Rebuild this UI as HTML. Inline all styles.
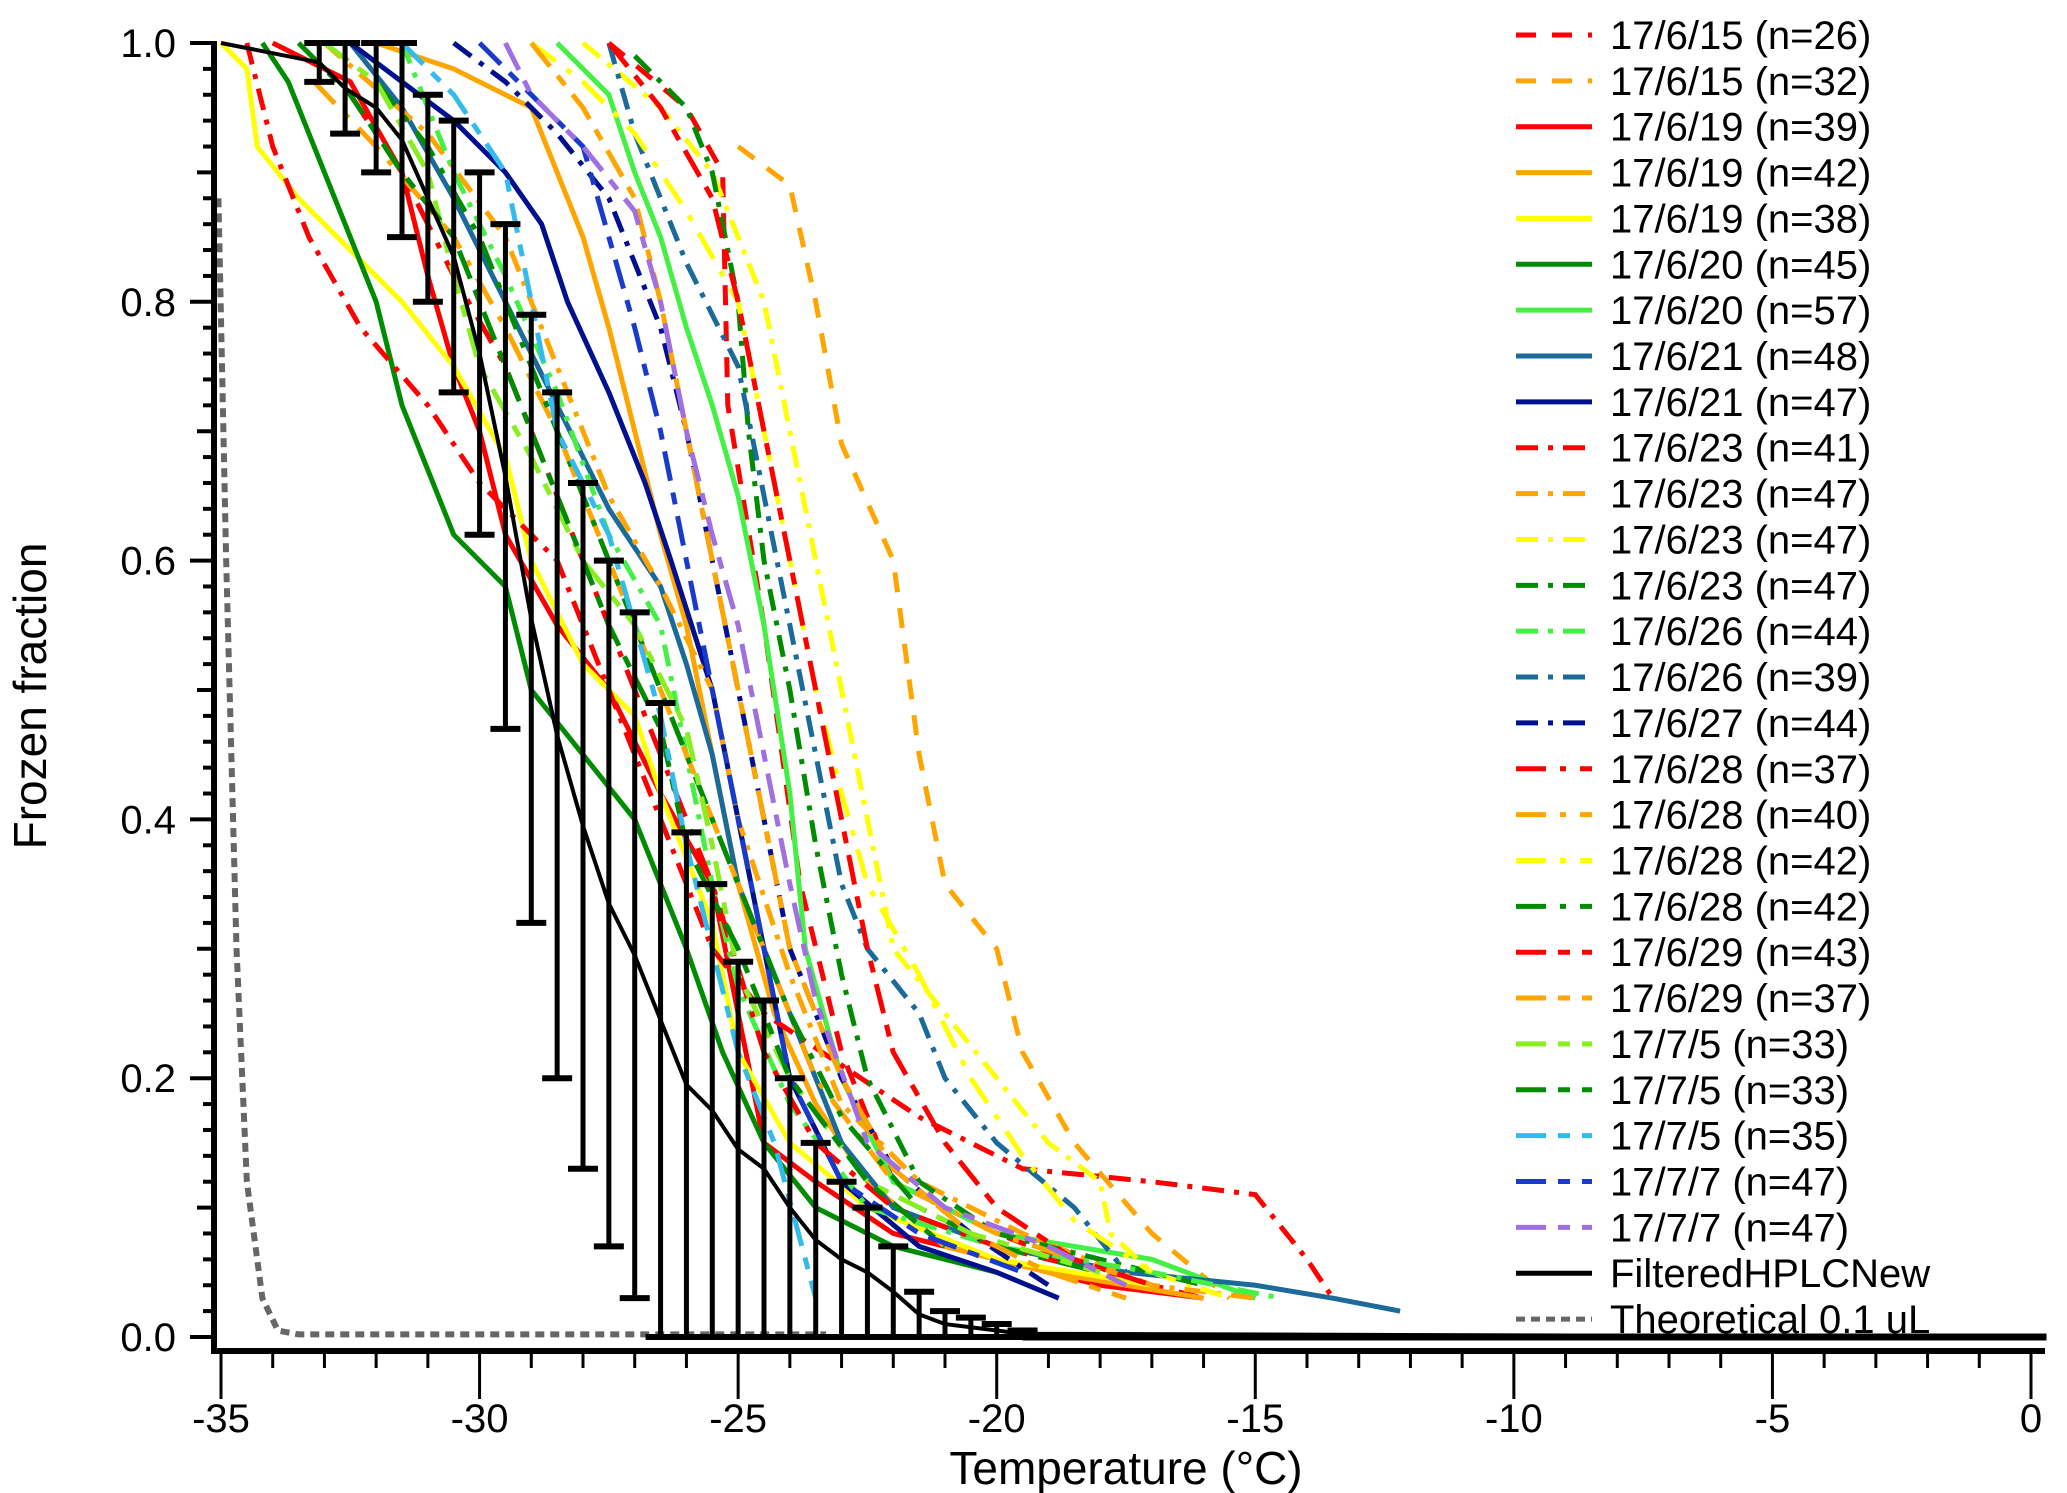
<!DOCTYPE html>
<html><head><meta charset="utf-8">
<style>
html,body{margin:0;padding:0;background:#fff;}
svg{display:block;font-family:"Liberation Sans",Arial,sans-serif;}
</style></head>
<body>
<svg id="chart" width="2067" height="1493" viewBox="0 0 2067 1493" xmlns="http://www.w3.org/2000/svg">
<g id="plot"></g>
<g id="axes"></g>
<g id="legend"></g>
<text x="1126" y="1492" font-size="46" text-anchor="middle" dy="-8">Temperature (°C)</text>
<text transform="translate(46,696) rotate(-90)" font-size="46" text-anchor="middle">Frozen fraction</text>
</svg>
<script>
const seriesNames = ["17/6/15 (n=26)","17/6/15 (n=32)","17/6/19 (n=39)","17/6/19 (n=42)","17/6/19 (n=38)","17/6/20 (n=45)","17/6/20 (n=57)","17/6/21 (n=48)","17/6/21 (n=47)","17/6/23 (n=41)","17/6/23 (n=47)","17/6/23 (n=47)","17/6/23 (n=47)","17/6/26 (n=44)","17/6/26 (n=39)","17/6/27 (n=44)","17/6/28 (n=37)","17/6/28 (n=40)","17/6/28 (n=42)","17/6/28 (n=42)","17/6/29 (n=43)","17/6/29 (n=37)","17/7/5 (n=33)","17/7/5 (n=33)","17/7/5 (n=35)","17/7/7 (n=47)","17/7/7 (n=47)"];
const seriesColors = ["#ff0000","#ffa500","#ff0000","#ffa500","#ffff00","#008c00","#44f044","#1a6a9a","#00108e","#ff0000","#ffa500","#ffff00","#008c00","#44f044","#1a6a9a","#00108e","#ff0000","#ffa500","#ffff00","#008c00","#ff0000","#ffa500","#88ee22","#008c00","#33bbee","#1a3acc","#a070e0"];
const seriesStyles = ["dash","dash","solid","solid","solid","solid","solid","solid","solid","dashdot","dashdot","dashdot","dashdot","dashdot","dashdot","dashdot","longdot","longdot","longdot","longdot","longdash","longdash","longdash","longdash","longdash","longdash","longdash"];
const seriesTemps = [
[-27.5,-26,-25.3,-25.2,-24.5,-23.8,-23,-22,-20,-18,-16],
[-25,-24,-23.5,-23,-22,-21.5,-21,-20,-19.5,-18.5,-17,-15.5],
[-34,-32.5,-31.5,-31,-30.5,-30,-29.5,-28.5,-27.5,-26.5,-25.5,-25,-24.5,-23.5,-22,-20,-18,-16],
[-32,-30.5,-29,-28.5,-28,-27.5,-27,-26.5,-26,-25.5,-25,-24.3,-23.5,-22.5,-21,-19,-16],
[-35,-34.5,-34.3,-33.5,-32.5,-31.5,-30.5,-29.5,-29,-28,-27,-26.5,-25.5,-25,-24,-22.5,-20,-17],
[-34.2,-33.7,-33,-32.5,-32,-31.5,-31,-30.5,-29.5,-29,-28,-27,-26.5,-26,-25.3,-24.5,-23.5,-22,-20],
[-28.5,-27.5,-27,-26.5,-26,-25.5,-25,-24.5,-24,-23.7,-23,-22,-20,-17,-15],
[-32.5,-31.5,-30.5,-29.5,-28.5,-27.5,-26.5,-26,-25.5,-25,-24,-23,-22,-20,-17.5,-15,-13.5,-12.2],
[-32.5,-31.5,-30.5,-29.5,-28.8,-28.3,-27.5,-26.8,-26.3,-25.5,-25,-24.5,-24,-23,-21.5,-20,-18.8],
[-34.5,-34,-33.3,-32.3,-31,-30,-28.5,-27.5,-26.5,-25.5,-24.5,-23,-21.5,-19.5,-17,-15,-14,-13.5],
[-33,-31,-29.5,-28.5,-27.5,-26.5,-25.5,-25,-24,-23,-21.5,-19.5,-17,-15],
[-28,-26.5,-25.5,-24.5,-24,-23.5,-23,-22.5,-22,-21,-20,-19,-18,-17.8,-17,-15.5],
[-27,-26,-25.5,-25,-24.8,-24.5,-24,-23.5,-23,-22.5,-21.5,-20,-18,-16],
[-31.5,-30.5,-29.5,-28.5,-27.5,-26.5,-26,-25.5,-25,-24,-22.5,-20,-17,-14.5],
[-27.5,-27,-26.5,-26,-25,-24.5,-24,-23.5,-23,-22.5,-21.5,-21,-20,-18.5,-17.5],
[-30.5,-29.5,-28.5,-27.5,-26.5,-26,-25.5,-25,-24.5,-24,-23,-22,-20.5,-19],
[-32.5,-31.5,-30.5,-29.5,-28.5,-27.5,-26.5,-25.5,-24.5,-23.5,-22,-20,-18],
[-33.2,-32,-30.5,-29.5,-28.5,-27.5,-26.5,-25.5,-24.5,-23.5,-22,-20,-17],
[-29,-28,-27,-26,-25,-24.5,-24,-23.5,-23,-22.5,-21.5,-20.5,-19.5,-18.5,-17],
[-32,-31,-30,-29,-28,-27,-26,-25,-24,-23,-21.5,-20,-18],
[-27.5,-26.5,-25.5,-25,-24.5,-24,-23.5,-23,-22.5,-22,-21,-20,-18.5,-17],
[-29,-28,-27,-26.5,-26,-25.5,-25,-24.5,-24,-23,-22,-20.5,-19,-17.5],
[-33,-32,-31,-30.5,-30,-29,-28,-27,-26,-25.5,-25,-24,-22.5,-20.5,-18],
[-33.5,-32.5,-31.5,-30.5,-29.5,-28.5,-27.5,-26.5,-26,-25,-24,-22.5,-21],
[-31.5,-30.5,-29.5,-29,-28.5,-27.5,-27,-26.5,-26,-25.5,-25,-24.3,-23.5],
[-30,-29,-28,-27.5,-27,-26.5,-26,-25.5,-25,-24.5,-24,-23,-21.5,-19.5],
[-29.5,-29,-28,-27,-26.5,-26,-25.5,-25,-24.5,-24,-23.5,-22.5,-21,-19,-17.5]
];
const seriesFractions = [
[1,0.95,0.9,0.72,0.55,0.35,0.22,0.12,0.08,0.05,0.03],
[0.92,0.89,0.8,0.69,0.6,0.45,0.35,0.3,0.22,0.15,0.08,0.03],
[1,0.97,0.9,0.82,0.75,0.7,0.62,0.55,0.5,0.42,0.35,0.25,0.15,0.12,0.08,0.06,0.04,0.03],
[1,0.98,0.95,0.9,0.85,0.78,0.7,0.62,0.55,0.45,0.35,0.25,0.18,0.12,0.07,0.05,0.03],
[1,0.98,0.92,0.88,0.84,0.8,0.75,0.68,0.6,0.52,0.48,0.42,0.32,0.22,0.15,0.1,0.06,0.04],
[1,0.97,0.9,0.85,0.8,0.72,0.67,0.62,0.58,0.5,0.45,0.4,0.35,0.3,0.22,0.15,0.1,0.07,0.05],
[1,0.96,0.9,0.85,0.78,0.72,0.65,0.55,0.42,0.3,0.2,0.12,0.08,0.06,0.03],
[1,0.95,0.88,0.8,0.72,0.64,0.58,0.52,0.45,0.35,0.25,0.15,0.1,0.07,0.05,0.04,0.03,0.02],
[1,0.97,0.94,0.9,0.86,0.8,0.73,0.66,0.6,0.5,0.4,0.3,0.2,0.12,0.07,0.05,0.03],
[1,0.92,0.85,0.78,0.72,0.66,0.6,0.5,0.4,0.3,0.25,0.21,0.17,0.13,0.12,0.11,0.06,0.03],
[1,0.93,0.85,0.75,0.65,0.58,0.5,0.4,0.28,0.18,0.12,0.08,0.04,0.03],
[1,0.95,0.9,0.8,0.7,0.6,0.5,0.4,0.3,0.25,0.2,0.15,0.12,0.08,0.05,0.03],
[0.99,0.95,0.9,0.8,0.7,0.6,0.5,0.38,0.28,0.2,0.12,0.08,0.06,0.04],
[1,0.9,0.82,0.73,0.62,0.55,0.45,0.35,0.27,0.18,0.1,0.07,0.05,0.03],
[1,0.93,0.88,0.83,0.75,0.65,0.55,0.45,0.35,0.3,0.25,0.2,0.15,0.1,0.05],
[1,0.97,0.93,0.88,0.78,0.7,0.6,0.5,0.4,0.3,0.2,0.13,0.08,0.04],
[0.96,0.9,0.82,0.75,0.65,0.55,0.45,0.35,0.22,0.15,0.1,0.07,0.05],
[0.97,0.92,0.85,0.78,0.7,0.6,0.5,0.4,0.3,0.2,0.12,0.08,0.04],
[1,0.97,0.93,0.87,0.8,0.7,0.6,0.5,0.42,0.35,0.28,0.2,0.14,0.09,0.05],
[0.97,0.92,0.85,0.75,0.65,0.55,0.45,0.35,0.25,0.17,0.1,0.07,0.05],
[1,0.95,0.88,0.8,0.7,0.6,0.5,0.4,0.3,0.22,0.15,0.1,0.06,0.04],
[1,0.95,0.88,0.8,0.7,0.6,0.5,0.4,0.3,0.2,0.13,0.08,0.05,0.03],
[1,0.97,0.9,0.82,0.75,0.68,0.6,0.55,0.47,0.38,0.28,0.2,0.12,0.08,0.05],
[1,0.96,0.9,0.85,0.75,0.65,0.55,0.47,0.38,0.3,0.2,0.12,0.07],
[1,0.96,0.9,0.8,0.7,0.62,0.55,0.48,0.38,0.3,0.22,0.15,0.03],
[1,0.96,0.92,0.85,0.78,0.7,0.6,0.5,0.4,0.3,0.2,0.12,0.08,0.05],
[1,0.96,0.92,0.87,0.8,0.7,0.62,0.55,0.45,0.35,0.26,0.15,0.1,0.07,0.04]
];
const meanTemps = [-35,-33.1,-32.6,-32,-31.5,-31,-30.5,-30,-29.5,-29,-28.5,-28,-27.5,-27,-26.5,-26,-25.5,-25,-24.5,-24,-23.5,-23,-22.5,-22,-21.5,-21,-20.5,-20,-19.5,0.3];
const errLower = [1,0.97,0.93,0.9,0.85,0.8,0.73,0.62,0.47,0.32,0.2,0.13,0.07,0.03,0,0,0,0,0,0,0,0,0,0,0,0,0,0,0,0];
const errUpper = [1,1,1,1,1,0.96,0.94,0.9,0.86,0.79,0.73,0.66,0.6,0.56,0.49,0.39,0.35,0.29,0.26,0.2,0.15,0.12,0.1,0.07,0.035,0.02,0.015,0.01,0.005,0];
const theoTemps = [-35.05,-34.9,-34.7,-34.5,-34.2,-33.9,-33.5,-23.3];
const theoFractions = [0.88,0.6,0.3,0.12,0.03,0.005,0.002,0.002];
const xTicks = [-35,-30,-25,-20,-15,-10,-5,0];
const yTicks = [0,0.2,0.4,0.6,0.8,1.0];

const NS="http://www.w3.org/2000/svg";
const X0=221, X1=2031, Y0=1337, Y1=43;
function xs(t){return X0+(t+35)/35*(X1-X0);}
function ys(f){return Y0-f*(Y0-Y1);}
function mk(tag,parent){const e=document.createElementNS(NS,tag);parent.appendChild(e);return e;}
const dashMap={solid:"",dash:"20,16",dashdot:"22,10,5,10",longdot:"30,14,6,14",longdash:"30,12,12,12"};
const plot=document.getElementById('plot'), axes=document.getElementById('axes'), legend=document.getElementById('legend');

const tp=mk('polyline',plot);


tp.setAttribute('points',theoTemps.map((t,i)=>xs(t)+','+ys(theoFractions[i])).join(' '));
tp.setAttribute('fill','none');tp.setAttribute('stroke','#666');tp.setAttribute('stroke-width','6');tp.setAttribute('stroke-dasharray','9,6');

seriesNames.forEach((n,i)=>{
  const p=mk('polyline',plot);
  
  
  p.setAttribute('points',seriesTemps[i].map((t,j)=>xs(t)+','+ys(seriesFractions[i][j])).join(' '));
  p.setAttribute('fill','none');p.setAttribute('stroke',seriesColors[i]);p.setAttribute('stroke-width','5');
  if(dashMap[seriesStyles[i]])p.setAttribute('stroke-dasharray',dashMap[seriesStyles[i]]);
});

const mp=mk('polyline',plot);


mp.setAttribute('points',meanTemps.map((t,i)=>xs(t)+','+ys((errLower[i]+errUpper[i])/2)).join(' '));
mp.setAttribute('fill','none');mp.setAttribute('stroke','#000');mp.setAttribute('stroke-width','4');
const zl=mk('line',plot);


zl.setAttribute('x1',xs(-19.5));zl.setAttribute('x2',xs(0.3));zl.setAttribute('y1',ys(0));zl.setAttribute('y2',ys(0));
zl.setAttribute('stroke','#000');zl.setAttribute('stroke-width','7');
meanTemps.forEach((t,i)=>{
  if(i===0||i===meanTemps.length-1)return;
  const g=mk('g',plot);
  
  
  const x=xs(t);
  const v=mk('line',g);v.setAttribute('x1',x);v.setAttribute('x2',x);v.setAttribute('y1',ys(errLower[i]));v.setAttribute('y2',ys(errUpper[i]));v.setAttribute('stroke','#000');v.setAttribute('stroke-width','5');
  [errLower[i],errUpper[i]].forEach(v2=>{const c=mk('line',g);c.setAttribute('x1',x-15);c.setAttribute('x2',x+15);c.setAttribute('y1',ys(v2));c.setAttribute('y2',ys(v2));c.setAttribute('stroke','#000');c.setAttribute('stroke-width','6');});
});

const AX=214, AY=1351;
const ya=mk('line',axes);
ya.setAttribute('x1',AX);ya.setAttribute('x2',AX);ya.setAttribute('y1',Y1-2);ya.setAttribute('y2',AY+3);ya.setAttribute('stroke','#000');ya.setAttribute('stroke-width','6');
const xa=mk('line',axes);
xa.setAttribute('x1',AX);xa.setAttribute('x2',2045);xa.setAttribute('y1',AY);xa.setAttribute('y2',AY);xa.setAttribute('stroke','#000');xa.setAttribute('stroke-width','6');
for(let k=0;k<=50;k++){
  const f=k*0.02, y=ys(f);
  const len = (k%10===0)?24:((k%5===0)?17:11);
  const t=mk('line',axes);
  t.setAttribute('x1',AX-len);t.setAttribute('x2',AX);t.setAttribute('y1',y);t.setAttribute('y2',y);t.setAttribute('stroke','#000');t.setAttribute('stroke-width','4');
}
yTicks.forEach(v=>{
  const t=mk('text',axes);
  t.setAttribute('x',176);t.setAttribute('y',ys(v)+14);t.setAttribute('text-anchor','end');t.setAttribute('font-size','40');
  t.textContent=v.toFixed(1);
});
for(let k=-35;k<=0;k++){
  const x=xs(k), len=(k%5===0)?48:17;
  const t=mk('line',axes);
  t.setAttribute('x1',x);t.setAttribute('x2',x);t.setAttribute('y1',AY);t.setAttribute('y2',AY+len);t.setAttribute('stroke','#000');t.setAttribute('stroke-width','3');
}
xTicks.forEach(v=>{
  const t=mk('text',axes);
  t.setAttribute('x',xs(v));t.setAttribute('y',1432);t.setAttribute('text-anchor','middle');t.setAttribute('font-size','40');
  t.textContent=String(v);
});

const legendNames=seriesNames.concat(["FilteredHPLCNew","Theoretical 0.1 uL"]);
const legendColors=seriesColors.concat(["#000","#666"]);
const legendStyles=seriesStyles.concat(["solid","theo"]);
legendNames.forEach((n,i)=>{
  const y=35+i*45.86;
  const g=mk('g',legend);
  
  
  const l=mk('line',g);l.setAttribute('x1',1516);l.setAttribute('x2',1592);l.setAttribute('y1',y);l.setAttribute('y2',y);
  l.setAttribute('stroke',legendColors[i]);l.setAttribute('stroke-width','5');
  if(legendStyles[i]==='theo')l.setAttribute('stroke-dasharray','9,6');
  else if(dashMap[legendStyles[i]])l.setAttribute('stroke-dasharray',dashMap[legendStyles[i]]);
  const t=mk('text',g);t.setAttribute('x',1610);t.setAttribute('y',y+14);t.setAttribute('font-size','40');
  t.textContent=n;
});
</script>
</body></html>
